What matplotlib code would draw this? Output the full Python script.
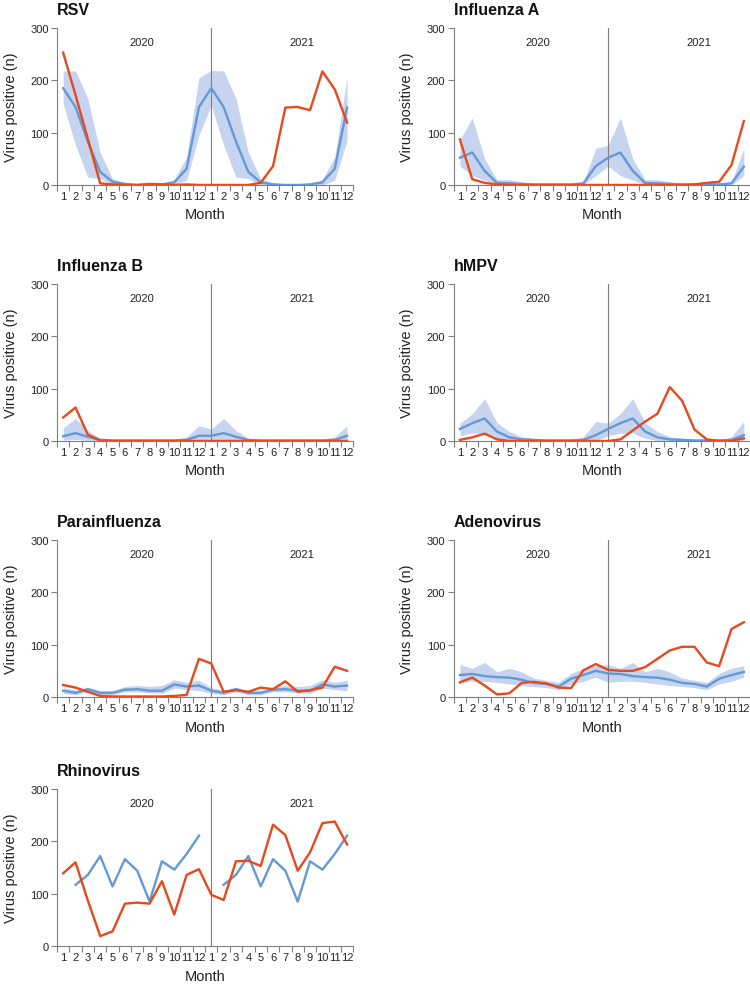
import numpy as np
import matplotlib
matplotlib.use('Agg')
import matplotlib.pyplot as plt

plt.rcParams['font.family'] = ['Liberation Sans', 'DejaVu Sans']

months = [str(m) for m in range(1, 13)] * 2
years = ['2020', '2021']

# observed 2020-2021 (orange) and historical mean with range (blue)
rsv_obs = [253, 172, 88, 3, 1, 0, 0, 2, 1, 0, 1, 0, 0, 0, 0, 0, 4, 36, 148, 149, 143, 217, 183, 119]
rsv_mean = [185, 149, 83, 25, 6, 2, 0, 0, 1, 5, 31, 149, 185, 149, 83, 25, 5, 1, 0, 0, 1, 5, 31, 148]
rsv_lo = [155, 76, 15, 12, 0, 0, 0, 0, 0, 0, 9, 95, 152, 76, 15, 12, 0, 0, 0, 0, 0, 0, 9, 85]
rsv_hi = [218, 218, 165, 62, 12, 4, 2, 2, 2, 10, 54, 205, 219, 218, 165, 62, 12, 4, 2, 2, 2, 10, 54, 205]

flua_obs = [87, 11, 4, 1, 0, 0, 0, 0, 0, 0, 0, 0, 0, 0, 0, 0, 0, 0, 0, 1, 4, 6, 38, 122]
flua_mean = [52, 62, 27, 4, 3, 2, 1, 1, 1, 1, 3, 36, 52, 62, 27, 4, 3, 2, 1, 1, 1, 1, 3, 35]
flua_lo = [36, 18, 9, 1, 0, 0, 0, 0, 0, 0, 0, 18, 36, 18, 9, 1, 0, 0, 0, 0, 0, 0, 0, 18]
flua_hi = [87, 128, 50, 10, 10, 6, 3, 2, 2, 2, 5, 70, 76, 128, 50, 10, 10, 6, 3, 2, 2, 2, 5, 70]

flub_obs = [45, 64, 12, 1, 0, 0, 0, 0, 0, 0, 0, 0, 0, 0, 0, 0, 0, 0, 0, 0, 0, 0, 0, 0]
flub_mean = [9, 15, 8, 2, 1, 1, 1, 1, 1, 1, 2, 10, 10, 15, 8, 2, 1, 1, 1, 1, 1, 1, 2, 10]
flub_lo = [2, 3, 1, 0, 0, 0, 0, 0, 0, 0, 0, 0, 2, 3, 1, 0, 0, 0, 0, 0, 0, 0, 0, 0]
flub_hi = [25, 43, 20, 5, 3, 2, 2, 2, 2, 3, 8, 29, 23, 43, 20, 5, 3, 2, 2, 2, 2, 3, 8, 29]

hmpv_obs = [2, 7, 14, 3, 0, 0, 0, 0, 0, 0, 0, 0, 0, 3, 20, 37, 52, 103, 77, 22, 3, 0, 0, 5]
hmpv_mean = [23, 34, 43, 18, 7, 3, 2, 1, 1, 1, 2, 11, 23, 34, 43, 18, 7, 3, 2, 1, 1, 1, 2, 11]
hmpv_lo = [10, 15, 15, 5, 1, 0, 0, 0, 0, 0, 0, 0, 10, 15, 15, 5, 1, 0, 0, 0, 0, 0, 0, 0]
hmpv_hi = [34, 52, 81, 35, 18, 8, 5, 3, 2, 2, 8, 37, 34, 52, 81, 35, 18, 8, 5, 3, 2, 2, 8, 37]

para_obs = [23, 18, 10, 2, 1, 1, 1, 1, 1, 2, 4, 73, 64, 10, 13, 10, 18, 15, 30, 10, 13, 18, 58, 50]
para_mean = [12, 8, 15, 8, 8, 14, 15, 12, 12, 24, 20, 22, 12, 8, 15, 8, 8, 14, 15, 12, 12, 24, 20, 22]
para_lo = [7, 4, 10, 4, 4, 10, 10, 8, 7, 17, 14, 12, 7, 4, 10, 4, 4, 10, 10, 8, 7, 17, 14, 12]
para_hi = [18, 13, 19, 12, 12, 20, 22, 20, 22, 33, 28, 32, 18, 13, 19, 12, 12, 20, 22, 20, 22, 33, 28, 32]

adeno_obs = [28, 37, 22, 5, 7, 27, 29, 26, 18, 17, 51, 63, 52, 50, 50, 57, 73, 89, 96, 96, 66, 59, 130, 143]
adeno_mean = [42, 44, 40, 38, 37, 33, 27, 25, 20, 35, 42, 50, 45, 44, 40, 38, 37, 33, 27, 25, 20, 35, 42, 48]
adeno_lo = [28, 30, 30, 28, 25, 22, 20, 18, 14, 25, 30, 38, 28, 30, 30, 28, 25, 22, 20, 18, 14, 25, 30, 38]
adeno_hi = [62, 55, 66, 48, 55, 48, 36, 32, 28, 45, 55, 60, 62, 55, 66, 48, 55, 48, 36, 32, 28, 45, 55, 60]

rhino_obs = [139, 160, 87, 19, 28, 81, 83, 81, 124, 60, 136, 147, 98, 88, 162, 163, 153, 232, 212, 144, 179, 235, 238, 194]
rhino_mean = [np.nan, 117, 136, 172, 114, 166, 144, 85, 162, 146, 176, 211,
              np.nan, 117, 136, 172, 114, 166, 144, 85, 162, 146, 176, 211]

ORANGE = '#e8481c'
BLUE = '#6399d6'
BAND = '#c6d4ef'
GREY = '#7f7f7f'
TXT = '#222222'


def draw_panel(ax, title, obs, mean, lo=None, hi=None):
    x = np.arange(24)
    if lo is not None:
        ax.fill_between(x, lo, hi, color=BAND, lw=0, zorder=1)
    ax.plot(x, mean, color=BLUE, lw=1.7, zorder=3)
    ax.plot(x, obs, color=ORANGE, lw=1.7, zorder=4)
    ax.axvline(12, color=GREY, lw=0.8, zorder=2)

    ax.set_xlim(-0.5, 23.5)
    ax.set_ylim(0, 300)
    ax.set_yticks([0, 100, 200, 300])
    ax.set_xticks(x)
    ax.set_xticklabels(months)
    ax.set_xticks(np.arange(-0.5, 24, 1), minor=True)
    ax.tick_params(axis='x', which='major', length=0, pad=4, labelsize=8, labelcolor=TXT)
    ax.tick_params(axis='x', which='minor', length=4, width=0.8, color=GREY)
    ax.tick_params(axis='y', length=4, width=0.8, color=GREY, labelsize=8, labelcolor=TXT, pad=2)

    for s in ['top', 'right']:
        ax.spines[s].set_visible(False)
    for s in ['left', 'bottom']:
        ax.spines[s].set_color(GREY)
        ax.spines[s].set_linewidth(0.8)

    ax.text(6.35, 273, years[0], ha='center', va='center', fontsize=8, color=TXT)
    ax.text(19.35, 273, years[1], ha='center', va='center', fontsize=8, color=TXT)

    ax.set_title(title, loc='left', fontsize=11.5, fontweight='bold', color='#111111', pad=10)
    ax.set_ylabel('Virus positive (n)', fontsize=10.5, color=TXT, labelpad=9)
    ax.set_xlabel('Month', fontsize=10.5, color=TXT, labelpad=5)


fig = plt.figure(figsize=(7.5, 9.87), dpi=100)

col_x = [0.076, 0.605]
row_y = [0.8116, 0.5522, 0.2928, 0.0405]
w, h = 0.395, 0.159

panels = [
    ('RSV', rsv_obs, rsv_mean, rsv_lo, rsv_hi),
    ('Influenza A', flua_obs, flua_mean, flua_lo, flua_hi),
    ('Influenza B', flub_obs, flub_mean, flub_lo, flub_hi),
    ('hMPV', hmpv_obs, hmpv_mean, hmpv_lo, hmpv_hi),
    ('Parainfluenza', para_obs, para_mean, para_lo, para_hi),
    ('Adenovirus', adeno_obs, adeno_mean, adeno_lo, adeno_hi),
    ('Rhinovirus', rhino_obs, rhino_mean, None, None),
]

for i, (title, obs, mean, lo, hi) in enumerate(panels):
    ax = fig.add_axes([col_x[i % 2], row_y[i // 2], w, h])
    draw_panel(ax, title, obs, mean, lo, hi)

fig.savefig('out.png', dpi=100)
